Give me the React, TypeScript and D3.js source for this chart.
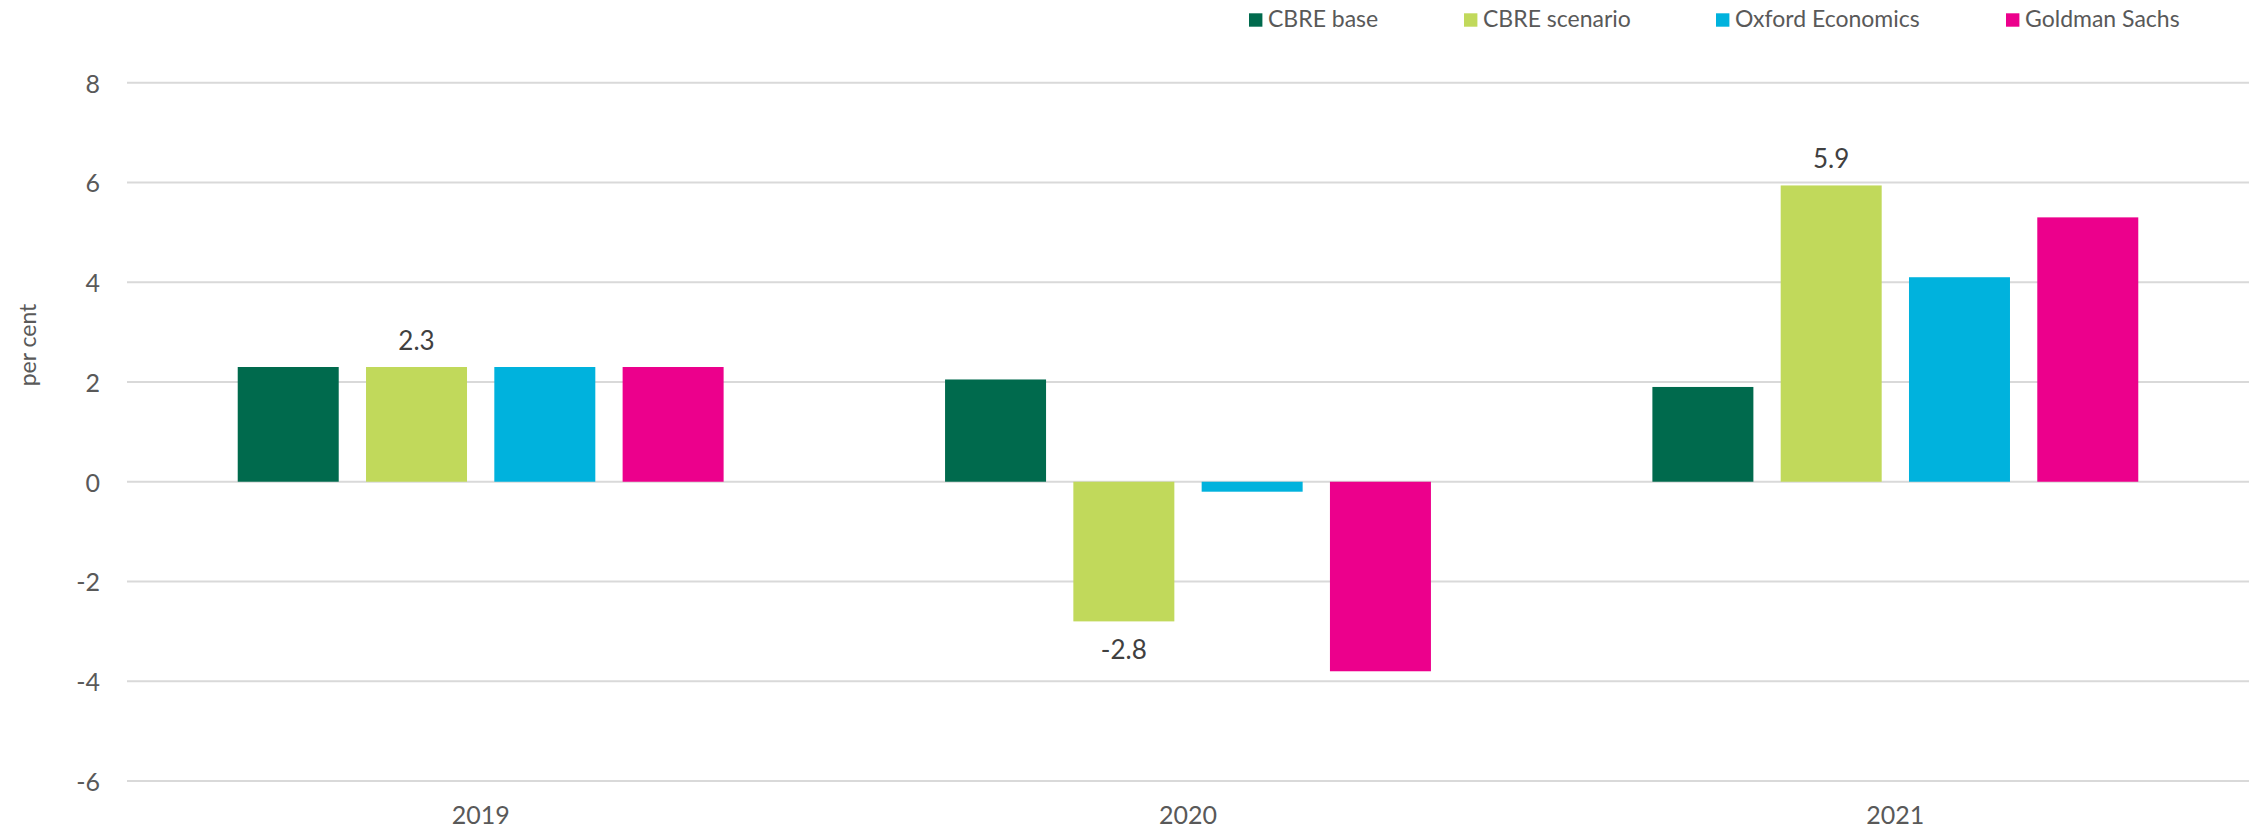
import React from "react";
import * as d3 from "d3";

const years = ["2019", "2020", "2021"];
const seriesNames = ["CBRE base", "CBRE scenario", "Oxford Economics", "Goldman Sachs"];
const cbreBase = [2.3, 2.05, 1.9];
const cbreScenario = [2.3, -2.8, 5.94];
const oxfordEconomics = [2.3, -0.2, 4.1];
const goldmanSachs = [2.3, -3.8, 5.3];
const yTicks = [-6, -4, -2, 0, 2, 4, 6, 8];
const labelledSeries = "CBRE scenario";

const seriesValues = [cbreBase, cbreScenario, oxfordEconomics, goldmanSachs];
const colors = ["#006A4D", "#C1D95B", "#00B2DD", "#EC008C"];
const legendX = [1249, 1464, 1716, 2006];

const W = 2262;
const H = 829;
const plotLeft = 127;
const plotRight = 2249;
const yTop = 82.7;
const yBottom = 781;
const FONT = "Lato, 'Open Sans', sans-serif";
const TEXT = "#595959";

const fmt = d3
  .formatLocale({ decimal: ".", thousands: ",", grouping: [3], currency: ["", ""], minus: "-" })
  .format(".1f");

export default function App() {
  const x0 = d3.scaleBand<string>().domain(years).range([plotLeft, plotRight]).paddingInner(0).paddingOuter(0);
  const x1 = d3
    .scaleBand<string>()
    .domain(seriesNames)
    .range([0, x0.bandwidth()])
    .paddingInner(0.2128)
    .paddingOuter(0.863);
  const y = d3.scaleLinear().domain([-6, 8]).range([yBottom, yTop]);

  return (
    <div style={{ position: "absolute", left: 0, top: 0 }}>
      <svg width={W} height={H} style={{ display: "block", background: "#fff" }}>
        {yTicks.map((t) => (
          <g key={t}>
            <line x1={plotLeft} x2={plotRight} y1={y(t)} y2={y(t)} stroke="#d9d9d9" strokeWidth={2} />
            <text x={100} y={y(t)} textAnchor="end" dominantBaseline="central" fontFamily={FONT} fontSize={25} fill={TEXT}>
              {t}
            </text>
          </g>
        ))}
        <text
          transform={`translate(27,345) rotate(-90)`}
          textAnchor="middle"
          dominantBaseline="central"
          fontFamily={FONT}
          fontSize={23}
          fill={TEXT}
        >
          per cent
        </text>
        {years.map((yr, i) => (
          <g key={yr} transform={`translate(${x0(yr)},0)`}>
            {seriesNames.map((s, j) => {
              const v = seriesValues[j][i];
              const bx = x1(s) as number;
              const top = Math.min(y(v), y(0));
              const h = Math.abs(y(v) - y(0));
              return (
                <g key={s}>
                  <rect x={bx} y={top} width={x1.bandwidth()} height={h} fill={colors[j]} />
                  {s === labelledSeries && (
                    <text
                      x={bx + x1.bandwidth() / 2}
                      y={v >= 0 ? y(v) - 17 : y(v) + 38}
                      textAnchor="middle"
                      fontFamily={FONT}
                      fontSize={26}
                      fill="#404040"
                    >
                      {fmt(v)}
                    </text>
                  )}
                </g>
              );
            })}
            <text
              x={x0.bandwidth() / 2}
              y={814}
              textAnchor="middle"
              dominantBaseline="central"
              fontFamily={FONT}
              fontSize={25}
              fill={TEXT}
            >
              {yr}
            </text>
          </g>
        ))}
        {seriesNames.map((s, j) => (
          <g key={s}>
            <rect x={legendX[j]} y={13.3} width={13.4} height={13.4} fill={colors[j]} />
            <text x={legendX[j] + 19} y={27.3} fontFamily={FONT} fontSize={23} fill={TEXT}>
              {s}
            </text>
          </g>
        ))}
      </svg>
    </div>
  );
}
